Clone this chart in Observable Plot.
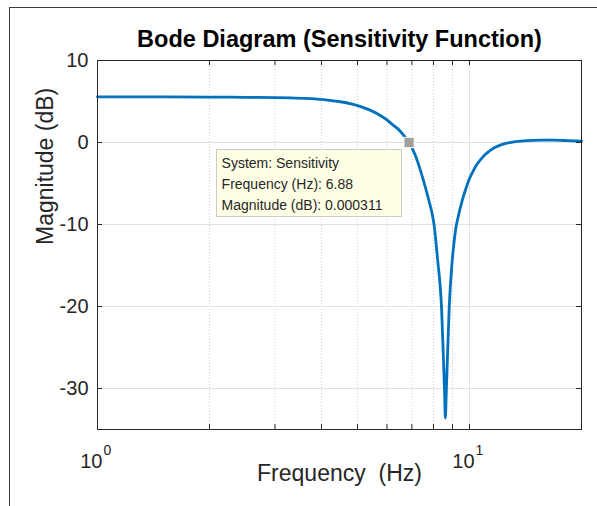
<!DOCTYPE html>
<html>
<head>
<meta charset="utf-8">
<script src="https://cdn.jsdelivr.net/npm/d3@7"></script>
<script src="https://cdn.jsdelivr.net/npm/@observablehq/plot@0.6"></script>
<style>
html, body { margin: 0; padding: 0; background: #fff; }
#wrap { position: relative; width: 597px; height: 506px; overflow: hidden; font-family: "Liberation Sans", Arial, sans-serif; }
#fig { position: absolute; left: 9px; top: 7px; width: 700px; height: 600px; border-top: 1px solid #3a3a3a; border-left: 1px solid #3a3a3a; }
#chart { position: absolute; left: 0; top: 0; }
svg text { white-space: pre; }
#tip { position: absolute; box-sizing: border-box; background: #ffffe6; border: 1px solid #cccccc; font-size: 14px; line-height: 21px; color: #262626; padding: 3px 0 0 5px; white-space: nowrap; }
</style>
</head>
<body>
<div id="wrap"><div id="fig"></div><div id="chart"></div></div>
<script>
// Sensitivity magnitude (frequency in Hz, magnitude in dB)
const freq = [1.0, 1.5, 2.0, 2.5, 3.0, 3.3, 3.6, 3.9, 4.2, 4.5, 4.8, 5.1, 5.4, 5.7, 6.0, 6.2, 6.4, 6.65, 6.88,
  7.15, 7.45, 7.76, 7.9, 8.03, 8.13, 8.23, 8.33, 8.41, 8.51, 8.57, 8.61, 8.66, 8.72, 8.82, 8.97, 9.07, 9.17, 9.35, 9.54, 9.75, 10.0,
  10.25, 10.5, 10.75, 11.0, 11.3, 11.6, 12.0, 12.6, 13.3, 14.3, 15.5, 16.8, 18.3, 20.0];
const mag = [5.57, 5.56, 5.54, 5.51, 5.47, 5.43, 5.37, 5.28, 5.15, 4.97, 4.72, 4.38, 3.95, 3.42, 2.75, 2.2, 1.72, 0.9, 0.000311,
  -1.55, -4.0, -6.9, -8.3, -10.0, -12.3, -14.8, -17.2, -20.1, -26.5, -30.5, -33.6, -30.5, -26.5, -20.1, -14.8, -12.5, -10.7, -8.8, -7.2, -5.8, -4.4,
  -3.4, -2.6, -2.0, -1.5, -1.05, -0.7, -0.38, -0.08, 0.12, 0.24, 0.28, 0.28, 0.23, 0.15];

const xMinorTicks = [2, 3, 4, 5, 6, 7, 8, 9];
const xMajorGrid = [10];
const xAllTicks = [2, 3, 4, 5, 6, 7, 8, 9, 10];
const xLabelTicks = [1, 10];
const xLabelExponents = ["0", "1"];
const yTicks = [-30, -20, -10, 0, 10];

const tipFreq = [6.88];
const tipMag = [0.000311];
const tipLines = ["System: Sensitivity", "Frequency (Hz): 6.88", "Magnitude (dB): 0.000311"];

const titleText = "Bode Diagram (Sensitivity Function)";
const xLabel = "Frequency  (Hz)";
const yLabel = "Magnitude (dB)";

const data = freq.map((f, i) => ({f, m: mag[i]}));
const tipData = tipFreq.map((f, i) => ({f, m: tipMag[i]}));

const W = 597, H = 506, mL = 97, mR = 16, mT = 60, mB = 77;
const iw = W - mL - mR, ih = H - mT - mB;
const axisColor = "#262626";
const font = "Liberation Sans, Arial, sans-serif";

const chart = Plot.plot({
  width: W, height: H,
  marginLeft: mL, marginRight: mR, marginTop: mT, marginBottom: mB,
  style: {fontFamily: font, background: "transparent", overflow: "visible"},
  x: {type: "log", domain: [1, 20], axis: null},
  y: {domain: [-35, 10], axis: null},
  marks: [
    Plot.ruleX(xMinorTicks, {stroke: "#cfcfcf", strokeDasharray: "1,2", strokeWidth: 1}),
    Plot.ruleX(xMajorGrid, {stroke: "#e2e2e2", strokeWidth: 1}),
    Plot.ruleY(yTicks, {stroke: "#e2e2e2", strokeWidth: 1}),
    Plot.line(data, {x: "f", y: "m", stroke: "#0072BD", strokeWidth: 2.8, curve: "monotone-x"}),
    Plot.frame({stroke: axisColor, strokeWidth: 1}),
    Plot.ruleX(xAllTicks, {stroke: axisColor, insetTop: ih - 5}),
    Plot.ruleX(xAllTicks, {stroke: axisColor, insetBottom: ih - 5}),
    Plot.ruleY(yTicks, {stroke: axisColor, insetRight: iw - 5}),
    Plot.ruleY(yTicks, {stroke: axisColor, insetLeft: iw - 5}),
    Plot.text(yTicks, {y: d => d, text: d => String(d), frameAnchor: "left", lineAnchor: "middle", textAnchor: "end", dx: -9, fontSize: 20, fill: axisColor}),
    Plot.text(xLabelTicks, {x: d => d, text: () => "10", frameAnchor: "bottom", lineAnchor: "middle", textAnchor: "end", dx: 5, dy: 32, fontSize: 20, fill: axisColor}),
    Plot.text(xLabelTicks, {x: d => d, text: (d, i) => xLabelExponents[i], frameAnchor: "bottom", lineAnchor: "middle", textAnchor: "start", dx: 6, dy: 21, fontSize: 14, fill: axisColor}),
    Plot.text([xLabel], {text: d => d, frameAnchor: "bottom", lineAnchor: "middle", dy: 44, fontSize: 23, fill: axisColor}),
    Plot.text([yLabel], {text: d => d, frameAnchor: "left", lineAnchor: "middle", rotate: -90, dx: -52, fontSize: 23, fill: axisColor}),
    Plot.text([titleText], {text: d => d, frameAnchor: "top", lineAnchor: "middle", dy: -21, fontSize: 23.5, fontWeight: "bold", fill: "#000"}),
    Plot.dot(tipData, {x: "f", y: "m", symbol: "square", r: 5.8, fill: "#a0a0a0", stroke: "#fffff0", strokeWidth: 1})
  ]
});
document.getElementById("chart").appendChild(chart);

const mx = chart.scale("x").apply(tipFreq[0]);
const my = chart.scale("y").apply(tipMag[0]);
const tip = document.createElement("div");
tip.id = "tip";
tip.style.left = (mx - 193) + "px";
tip.style.top = (my + 7) + "px";
tip.style.width = "186px";
tip.style.height = "68px";
tipLines.forEach(t => { const d = document.createElement("div"); d.textContent = t; tip.appendChild(d); });
document.getElementById("wrap").appendChild(tip);
</script>
</body>
</html>
